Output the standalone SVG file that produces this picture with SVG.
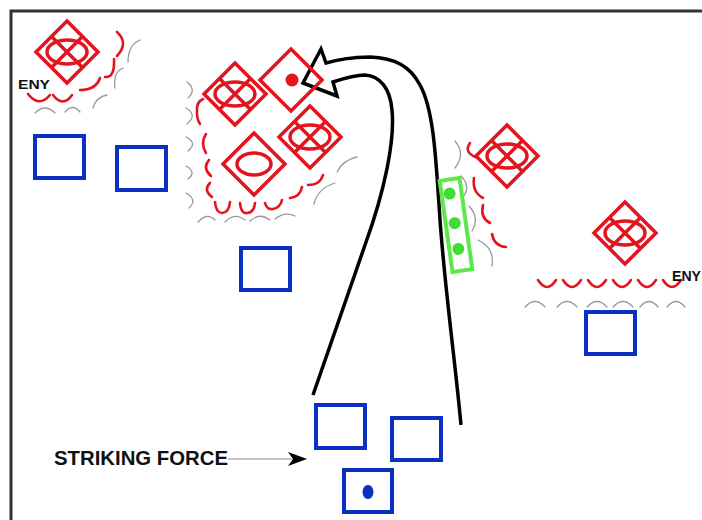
<svg xmlns="http://www.w3.org/2000/svg" xmlns:xlink="http://www.w3.org/1999/xlink" width="702" height="520" viewBox="0 0 702 520">
<style>
.frame{stroke:#333;stroke-width:3;fill:none}
.enemy{stroke:#e3141e;stroke-width:3.5;fill:none}
.rs{stroke:#e3141e;stroke-width:2.6;fill:none;stroke-linecap:round;stroke-linejoin:round}
.gs{stroke:#9a9a9a;stroke-width:1.3;fill:none;stroke-linecap:round}
.friend{stroke:#0b2fc0;stroke-width:4;fill:none}
.green{stroke:#5de84a;stroke-width:4;fill:#fff}
.gdot{fill:#3fdc36}
.lbl{font-family:"Liberation Sans",Arial,sans-serif;font-weight:bold;fill:#111}
.route{stroke:#000;stroke-width:3.5;fill:none;stroke-linejoin:miter}
</style>
<defs>
<g id="dX">
<path d="M0,-31 L31,0 L0,31 L-31,0Z"/>
<ellipse cx="0" cy="0" rx="20" ry="12"/>
<path d="M-15,-15 L15,15 M15,-15 L-15,15"/>
</g>
</defs>
<rect width="702" height="520" fill="#fff"/>
<path class="frame" d="M11,520 L11,11 L702,11"/>

<g id="connectors">
<path class="route" d="M461,425 C455,360 445,290 440,220 C436,160 434,110 420,85 C410,66 395,58 370,57 C350,57 338,60 326,63 L321,49 L303,83 L337,96 L333,82 C345,78 355,75 365,75 C380,76 390,88 392,110 C395,140 385,190 365,245 L313,395"/>
<line x1="228" y1="459" x2="292" y2="459" stroke="#888" stroke-width="1"/>
<path d="M307,459 L288,452 L293,459 L288,466 Z" fill="#000"/>
</g>

<g id="eny-nw">
<use xlink:href="#dX" class="enemy" transform="translate(67,52)"/>
<g class="rs">
<path d="M28,94 Q39,108 50,95"/><path d="M53,95 Q63,108 72,95"/>
<path d="M80,90 Q96,90 100,78"/><path d="M105,77 Q115,78 114,59"/>
<path d="M117,32 Q129,43 117,56"/>
</g>
<g class="gs">
<path d="M35,113 Q45,103 55,113"/><path d="M65,112 Q73,103 80,112"/>
<path d="M93,108 Q96,97 107,95"/><path d="M115,88 Q113,72 123,68"/>
<path d="M128,62 Q128,45 140,40"/>
</g>
<text class="lbl" x="18" y="89" font-size="13" textLength="32" lengthAdjust="spacingAndGlyphs">ENY</text>
</g>

<g id="eny-main">
<use xlink:href="#dX" class="enemy" transform="translate(235,94)"/>
<g class="enemy" transform="translate(291,80)"><path d="M0,-31 L31,0 L0,31 L-31,0Z"/></g>
<circle cx="292" cy="80" r="6.5" fill="#e3141e"/>
<use xlink:href="#dX" class="enemy" transform="translate(310,137)"/>
<g class="enemy" transform="translate(254,164)"><path d="M0,-31 L31,0 L0,31 L-31,0Z"/><ellipse rx="17" ry="11"/></g>
<g class="rs">
<path d="M203,99 Q196,102 197,112 Q197,120 200,124"/>
<path d="M206,134 Q200,143 206,153"/>
<path d="M209,160 Q202,168 211,176"/>
<path d="M210,183 Q203,190 212,197"/>
<path d="M215,202 Q216,213 222,213 Q229,213 230,202"/>
<path d="M240,203 Q241,214 247,213 Q254,213 255,203"/>
<path d="M265,203 Q267,210 273,209 Q280,208 282,200"/>
<path d="M290,198 Q300,197 302,187"/>
<path d="M308,185 Q320,185 323,175"/>
</g>
<g class="gs">
<path d="M187,82 Q197,90 188,98"/>
<path d="M186,108 Q198,115 187,124"/>
<path d="M186,137 Q198,143 188,151"/>
<path d="M186,166 Q197,172 188,179"/>
<path d="M186,193 Q198,200 189,208"/>
<path d="M198,222 Q207,212 215,220"/>
<path d="M225,222 Q235,212 245,220"/>
<path d="M250,221 Q260,212 270,220"/>
<path d="M275,219 Q285,211 295,216"/>
<path d="M314,204 Q318,188 335,183"/>
<path d="M337,172 Q343,160 357,157"/>
</g>
</g>

<g id="eny-east">
<use xlink:href="#dX" class="enemy" transform="translate(507,156)"/>
<g class="rs">
<path d="M470,143 Q463,153 478,158"/>
<path d="M474,178 Q472,192 483,198"/>
<path d="M483,205 Q480,218 490,223"/>
<path d="M492,234 Q494,246 506,247"/>
</g>
<g class="gs">
<path d="M455,141 Q466,154 455,168"/>
<path d="M461,176 Q472,187 462,198"/>
<path d="M469,206 Q480,218 472,231"/>
<path d="M478,240 Q495,248 492,266"/>
</g>
</g>

<g id="friendly-green" transform="translate(456,225) rotate(-8)">
<rect class="green" x="-10" y="-46" width="20" height="92"/>
<circle class="gdot" cx="-2" cy="-32" r="6"/>
<circle class="gdot" cx="-1" cy="-2" r="6"/>
<circle class="gdot" cx="-1" cy="24" r="6"/>
</g>

<g id="eny-far-east">
<use xlink:href="#dX" class="enemy" transform="translate(625,233)"/>
<g class="rs">
<path d="M538,280 Q547,294 556,280"/><path d="M563,280 Q572,294 581,280"/>
<path d="M588,280 Q597,294 606,280"/><path d="M613,280 Q622,294 631,280"/>
<path d="M638,280 Q647,294 656,280"/><path d="M663,280 Q672,294 681,280"/>
</g>
<g class="gs">
<path d="M525,307 Q535,296 545,307"/><path d="M557,307 Q567,296 577,307"/>
<path d="M587,307 Q597,296 607,307"/><path d="M613,307 Q623,296 633,307"/>
<path d="M640,307 Q649,296 658,307"/><path d="M667,307 Q676,296 685,307"/>
</g>
<text class="lbl" x="672" y="281" font-size="14" textLength="29" lengthAdjust="spacingAndGlyphs">ENY</text>
</g>

<g id="friendly-units">
<rect class="friend" x="35" y="136" width="49" height="42"/>
<rect class="friend" x="117" y="147" width="49" height="43"/>
<rect class="friend" x="241" y="248" width="49" height="42"/>
<rect class="friend" x="586" y="312" width="49" height="42"/>
</g>

<g id="striking-force">
<rect class="friend" x="316" y="405" width="49" height="43"/>
<rect class="friend" x="392" y="418" width="49" height="42"/>
<rect class="friend" x="344" y="470" width="48" height="42"/>
<ellipse cx="368" cy="492" rx="5.5" ry="7" fill="#0b2fc0"/>
<text class="lbl" x="54" y="465" font-size="19.5" textLength="174" lengthAdjust="spacingAndGlyphs">STRIKING FORCE</text>
</g>
</svg>
